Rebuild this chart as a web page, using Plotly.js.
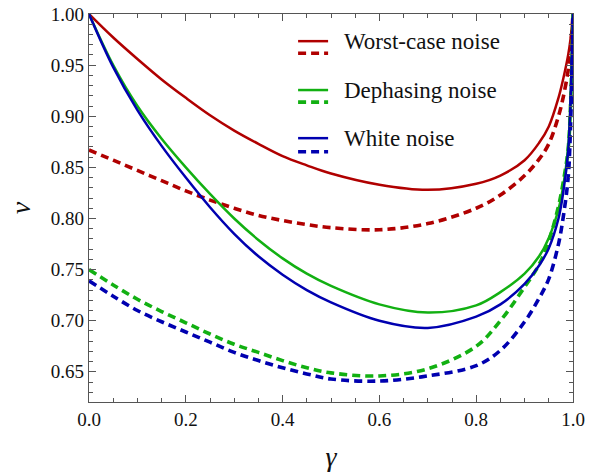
<!DOCTYPE html>
<html>
<head>
<meta charset="utf-8">
<script src="https://cdn.plot.ly/plotly-3.0.1.min.js"></script>
<style>html,body{margin:0;padding:0;background:#fff;}#chart{width:608px;height:475px;}</style>
</head>
<body>
<div id="chart"></div>
<script>
// gamma sample points
const gamma = [0, 0.05, 0.1, 0.15, 0.2, 0.25, 0.3, 0.35, 0.4, 0.45, 0.5, 0.6, 0.7, 0.8, 0.85, 0.9, 0.93, 0.95, 0.97, 0.98, 0.99, 0.995, 1.0];

const worstSolid  = [1.000, 0.977, 0.956, 0.936, 0.918, 0.901, 0.886, 0.873, 0.861, 0.852, 0.844, 0.833, 0.828, 0.834, 0.842, 0.857, 0.874, 0.890, 0.918, 0.937, 0.960, 0.976, 1.000];
const worstDashed = [0.867, 0.857, 0.847, 0.837, 0.827, 0.818, 0.810, 0.803, 0.798, 0.794, 0.791, 0.789, 0.795, 0.810, 0.823, 0.842, 0.858, 0.873, 0.900, 0.919, 0.945, 0.965, 1.000];
const dephSolid   = [1.000, 0.950, 0.910, 0.878, 0.850, 0.824, 0.800, 0.779, 0.761, 0.746, 0.734, 0.716, 0.708, 0.715, 0.728, 0.746, 0.763, 0.781, 0.809, 0.832, 0.870, 0.915, 1.000];
const dephDashed  = [0.750, 0.735, 0.721, 0.709, 0.698, 0.687, 0.677, 0.669, 0.661, 0.654, 0.649, 0.646, 0.653, 0.675, 0.700, 0.733, 0.755, 0.778, 0.812, 0.836, 0.868, 0.912, 1.000];
const whiteSolid  = [1.000, 0.948, 0.906, 0.871, 0.840, 0.811, 0.785, 0.763, 0.745, 0.730, 0.718, 0.700, 0.693, 0.704, 0.716, 0.736, 0.754, 0.771, 0.800, 0.826, 0.866, 0.915, 1.000];
const whiteDashed = [0.739, 0.724, 0.710, 0.699, 0.689, 0.679, 0.669, 0.661, 0.654, 0.648, 0.643, 0.641, 0.646, 0.656, 0.671, 0.699, 0.722, 0.741, 0.775, 0.802, 0.840, 0.892, 1.000];

const legendLabels = ["Worst-case noise", "Dephasing noise", "White noise"];
const colors = ["#b00000", "#12b012", "#0000b0"];

const SERIF = "Liberation Serif";
const solidW = 2.5, dashW = 3.6, dashPat = "8px,5px";
function tr(y, color, dashed) {
  return {
    x: gamma, y: y, mode: "lines", type: "scatter", showlegend: false,
    line: {color: color, width: dashed ? dashW : solidW, dash: dashed ? dashPat : "solid", shape: "spline", smoothing: 1},
    hoverinfo: "skip"
  };
}
const data = [
  tr(worstSolid, colors[0], false), tr(worstDashed, colors[0], true),
  tr(dephSolid, colors[1], false), tr(dephDashed, colors[1], true),
  tr(whiteSolid, colors[2], false), tr(whiteDashed, colors[2], true)
];

const legX0 = 0.432, legX1 = 0.494;
const legSolidY = [0.930, 0.804, 0.680];
const legDashY = [0.899, 0.773, 0.645];
const legTextY = [0.928, 0.802, 0.678];
const shapes = [], annotations = [];
for (let i = 0; i < 3; i++) {
  shapes.push({type: "line", xref: "paper", yref: "paper", x0: legX0, x1: legX1, y0: legSolidY[i], y1: legSolidY[i], line: {color: colors[i], width: solidW}});
  shapes.push({type: "line", xref: "paper", yref: "paper", x0: legX0, x1: legX1, y0: legDashY[i], y1: legDashY[i], line: {color: colors[i], width: dashW, dash: dashPat}});
  annotations.push({xref: "paper", yref: "paper", x: 0.523, y: legTextY[i], xanchor: "left", yanchor: "middle", showarrow: false, text: legendLabels[i], font: {family: SERIF, size: 23, color: "#111111"}});
}

function axis(extra) {
  return Object.assign({
    showgrid: false, zeroline: false, showline: true, linecolor: "#555555", linewidth: 1.2,
    mirror: "allticks", ticks: "inside", ticklen: 7, tickwidth: 1, tickcolor: "#555555",
    tickfont: {family: SERIF, size: 19, color: "#111111"}
  }, extra);
}

const layout = {
  width: 608, height: 475,
  margin: {l: 89, r: 35, t: 14, b: 73},
  paper_bgcolor: "#ffffff", plot_bgcolor: "#ffffff",
  xaxis: axis({
    range: [0, 1], tickvals: [0, 0.2, 0.4, 0.6, 0.8, 1.0], ticktext: ["0.0", "0.2", "0.4", "0.6", "0.8", "1.0"],
    minor: {dtick: 0.05, ticks: "inside", ticklen: 4, tickcolor: "#555555", showgrid: false},
    title: {text: "<i>γ</i>", font: {family: SERIF, size: 28, color: "#111111"}, standoff: 17}
  }),
  yaxis: axis({
    range: [0.6205, 1.0], tickvals: [0.65, 0.7, 0.75, 0.8, 0.85, 0.9, 0.95, 1.0],
    ticktext: ["0.65", "0.70", "0.75", "0.80", "0.85", "0.90", "0.95", "1.00"],
    minor: {dtick: 0.01, ticks: "inside", ticklen: 4, tickcolor: "#555555", showgrid: false},
    title: {text: "<i>v</i>", font: {family: SERIF, size: 28, color: "#111111"}, standoff: 12}
  }),
  shapes: shapes,
  annotations: annotations
};

Plotly.newPlot("chart", data, layout, {displayModeBar: false, staticPlot: true});
</script>
</body>
</html>
